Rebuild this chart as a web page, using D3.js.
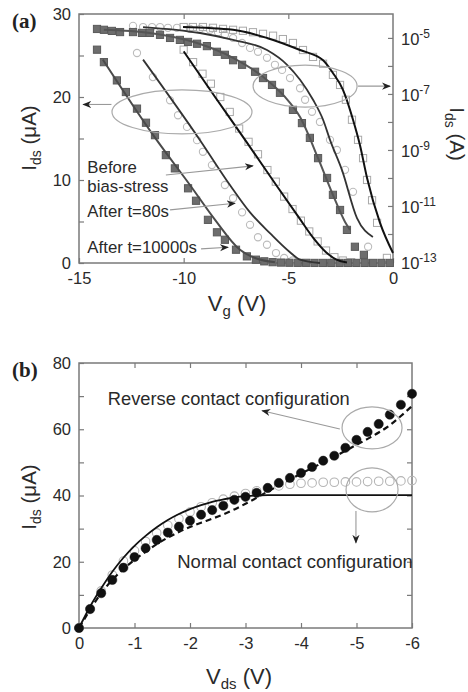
<!DOCTYPE html>
<html><head><meta charset="utf-8">
<script src="https://cdn.jsdelivr.net/npm/d3@7"></script>
<style>
body{margin:0;background:#fff}
svg{display:block}
text{font-family:"Liberation Sans",Arial,Helvetica,sans-serif}
</style>
</head><body><svg id="c" width="468" height="692"></svg>
<script>
// ---------------- DATA: panel (a) ----------------
// After t=10000s (filled squares), linear scale, Vg (V) / Ids (uA)
const s10k_lin_V = [-14.14,-13.81,-13.19,-12.76,-12.23,-11.80,-11.37,-10.85,-10.42,-9.79,-9.41,-8.84,-8.41,-8.03,-7.50,-6.98,-6.55,-6.15,-5.75,-5.35,-4.95,-4.55,-4.15,-3.75,-3.35,-2.95,-2.55,-2.15,-1.75,-1.35,-0.95,-0.55,-0.15];
const s10k_lin_I = [25.7,24.2,22.0,20.6,18.6,16.9,15.4,13.0,11.4,9.0,7.5,5.2,3.7,2.8,1.6,0.8,0.4,0.2,0.1,0.05,0.03,0.02,0.02,0.01,0.01,0.01,0.01,0.01,0.01,0.01,0.01,0.01,0.01];
// After t=10000s, log scale Ids (A)
const s10k_log_V = [-14.14,-13.81,-13.43,-13.04,-12.42,-11.99,-11.61,-11.13,-10.65,-10.18,-9.79,-9.36,-8.89,-8.41,-8.03,-7.64,-7.21,-6.59,-6.21,-5.78,-5.40,-4.78,-4.35,-3.97,-3.58,-3.15,-2.87,-2.53,-2.20,-1.82,-1.39];
const s10k_log_I = [2.09e-5,1.95e-5,1.78e-5,1.62e-5,1.62e-5,1.51e-5,1.51e-5,1.29e-5,1.0e-5,8.5e-6,7.2e-6,6.2e-6,5.1e-6,3.2e-6,2.5e-6,1.6e-6,1.1e-6,6.2e-7,3.7e-7,2.1e-7,1.1e-7,2.7e-8,9.1e-9,2.7e-9,5.1e-10,1.0e-10,2.5e-11,7.2e-12,1.4e-12,3.5e-13,1.8e-13];
// After t=80s (open circles)
const s80_lin_V = [-12.23,-11.47,-10.65,-10.27,-9.84,-9.36,-9.08,-8.65,-8.03,-7.64,-7.21,-6.83,-6.45,-6.02,-5.59,-5.20,-4.80];
const s80_lin_I = [25.3,22.4,19.6,17.8,16.4,14.8,13.4,11.8,9.4,7.8,6.1,4.6,3.1,2.2,1.2,0.6,0.3];
const s80_log_V = [-12.42,-11.94,-11.51,-11.13,-10.75,-10.32,-9.70,-9.22,-8.74,-8.36,-8.03,-7.64,-7.21,-6.83,-6.45,-6.02,-5.64,-5.30,-4.92,-4.44,-4.20,-3.87,-3.49,-3.01,-2.68,-2.29,-1.91,-1.19];
const s80_log_I = [2.7e-5,2.45e-5,2.45e-5,2.45e-5,2.3e-5,2.3e-5,2.1e-5,2.1e-5,1.95e-5,1.6e-5,1.3e-5,1.0e-5,6.6e-6,4.4e-6,3.2e-6,1.95e-6,1.1e-6,7.2e-7,3.7e-7,1.6e-7,6.2e-8,2.3e-8,1.0e-8,2.3e-9,1.0e-9,1.95e-10,3.2e-11,3.5e-13];
// Before bias-stress (open squares)
const s0_lin_V = [-10.0,-9.55,-9.1,-8.7,-8.25,-7.8,-7.35,-6.9,-6.45,-6.0,-5.6,-5.2,-4.8,-4.4,-4.0,-3.6,-3.2,-2.8,-2.4,-2.0];
const s0_lin_I = [25.7,24.2,22.8,21.6,20.0,18.2,16.2,14.6,13.1,11.2,9.8,8.0,6.5,5.1,3.8,2.6,1.5,0.7,0.3,0.1];
const s0_log_V = [-10.0,-9.56,-9.08,-8.60,-8.12,-7.64,-7.17,-6.69,-6.21,-5.73,-5.26,-4.78,-4.30,-3.82,-3.34,-2.87,-2.53,-2.25,-1.96,-1.67,-1.43,-1.24,-1.0,-0.76,-0.29];
const s0_log_I = [2.45e-5,2.45e-5,2.45e-5,2.3e-5,2.1e-5,1.95e-5,1.8e-5,1.6e-5,1.4e-5,1.2e-5,9.1e-6,6.6e-6,3.7e-6,2.1e-6,1.2e-6,4.8e-7,2.1e-7,6.2e-8,1.2e-8,2.3e-9,5.1e-10,8.5e-11,1.6e-11,2.5e-12,1.4e-13];
// fitted curves
const fit0_lin_V = [-10.0,-8.5,-7.0,-5.5,-4.5,-3.8,-3.2,-2.7,-2.2];
const fit0_lin_I = [25.5,20.0,14.6,9.1,5.5,3.0,1.3,0.4,0.05];
const fit80_lin_V = [-11.94,-9.22,-7.79,-6.83,-5.88,-4.92,-4.44,-3.49];
const fit80_lin_I = [24.5,14.8,9.4,6.1,3.6,1.3,0.4,0.0];
const fit10k_lin_V = [-13.86,-11.37,-9.70,-8.50,-7.31,-6.59,-5.64];
const fit10k_lin_I = [24.5,15.1,9.4,5.2,1.6,0.6,0.1];
const fit0_log_V = [-10.03,-7.64,-6.02,-4.44,-3.34,-2.87,-2.39,-1.91,-1.58,-1.24,-0.62,0];
const fit0_log_I = [2.45e-5,1.95e-5,1.0e-5,3.7e-6,1.6e-6,5.6e-7,1.4e-7,1.2e-8,1.5e-9,1.0e-10,2.5e-12,2.1e-13];
const fit80_log_V = [-11.94,-9.22,-7.64,-6.02,-5.06,-4.44,-3.82,-3.34,-3.01,-2.44,-1.72,-0.96];
const fit80_log_I = [2.45e-5,1.5e-5,8.5e-6,3.7e-6,1.1e-6,3.2e-7,6.2e-8,1.2e-8,2.3e-9,1.95e-10,3.7e-12,7.8e-13];
const fit10k_log_V = [-13.81,-11.61,-9.36,-7.64,-6.21,-5.16,-4.44,-3.58,-2.87,-2.29,-2.05];
const fit10k_log_I = [1.95e-5,1.5e-5,6.6e-6,1.95e-6,4.1e-7,7.8e-8,1.5e-8,5.1e-10,2.5e-11,2.7e-12,1.4e-12];
// axis ticks (a)
const a_xTicks = [-15,-10,-5,0];
const a_yTicks = [0,10,20,30];
const a_yMinor = [5,15,25];
const a_logExp = [-13,-12,-11,-10,-9,-8,-7,-6,-5];
const a_logLabelExp = [-13,-11,-9,-7,-5];

// ---------------- DATA: panel (b) ----------------
const b_V = [0,-0.2,-0.4,-0.6,-0.8,-1.0,-1.2,-1.4,-1.6,-1.8,-2.0,-2.2,-2.4,-2.6,-2.8,-3.0,-3.2,-3.4,-3.6,-3.8,-4.0,-4.2,-4.4,-4.6,-4.8,-5.0,-5.2,-5.4,-5.6,-5.8,-6.0];
const reverse_I = [0,5.7,10.5,14.5,18.2,21.4,24.1,26.6,28.8,30.6,32.4,34.2,35.6,36.9,38.7,39.6,40.8,42.3,43.8,45.3,46.8,48.6,50.5,52.0,54.4,56.8,59.2,61.6,64.4,67.4,70.7];
const normal_I = [0,5.8,11.2,16,20.2,23.3,26.1,28.7,31,33,35,36.6,37.8,38.9,39.8,40.6,41.4,42.2,42.9,43.4,43.7,43.8,44,44,44.1,44.1,44.2,44.3,44.3,44.4,44.5];
const normalFit_I = [0,6.5,12,17,21.2,24.8,27.8,30.4,32.6,34.4,35.9,37.1,38.1,38.8,39.4,39.8,40,40.1,40.1,40.1,40.1,40.1,40.1,40.1,40.1,40.1,40.1,40.1,40.1,40.1,40.1];
const reverseFit_I = [0,5.5,10.5,14.5,17.8,20.6,23,25.3,27.3,29,30.5,31.8,33,34.3,35.8,37.5,39.3,41.2,43,44.8,46.6,48.3,50,51.7,53.5,55.3,57.1,59,61.2,64,67];
const b_xTicks = [0,-1,-2,-3,-4,-5,-6];
const b_yTicks = [0,20,40,60,80];
const b_yMinor = [10,30,50,70];

// ---------------- SCALES ----------------
const svg = d3.select('#c');
const xA = d3.scaleLinear().domain([-15,0]).range([79,393]);
const yA = d3.scaleLinear().domain([0,30]).range([263,14]);
const yL = d3.scaleLog().domain([1e-13, Math.pow(10,-4.11)]).range([262,13]);
const xB = d3.scaleLinear().domain([0,-6]).range([79,412]);
const yB = d3.scaleLinear().domain([0,80]).range([628,363]);

const AX = '#7a7a7a', TXT = '#2a2a2a';
const zip = (a,b) => a.map((v,i)=>[v,b[i]]);

const defs = svg.append('defs');
defs.append('marker').attr('id','ah').attr('viewBox','0 0 10 10').attr('refX',9).attr('refY',5)
  .attr('markerWidth',9).attr('markerHeight',9).attr('markerUnits','userSpaceOnUse').attr('orient','auto')
  .append('path').attr('d','M0,1 L10,5 L0,9 L3,5 Z').attr('fill','#222');

function styleAxis(g){
  g.select('.domain').remove();
  g.selectAll('.tick line').attr('stroke',AX).attr('stroke-width',1.2);
  g.selectAll('.tick text').attr('fill',TXT).style('font-size','16.5px').style('font-family','"Liberation Sans",Arial,sans-serif');
}
const fmt = d => String(d);

// ============ PANEL (a) ============
const pa = svg.append('g');
pa.append('g').attr('transform',`translate(0,${yA(0)})`)
  .call(d3.axisBottom(xA).tickValues(a_xTicks).tickSizeInner(-5).tickSizeOuter(0).tickPadding(9).tickFormat(fmt)).call(styleAxis);
pa.append('g').attr('transform',`translate(0,${yA(30)})`)
  .call(d3.axisTop(xA).tickValues(a_xTicks.slice(1,-1)).tickSizeInner(-5).tickSizeOuter(0).tickFormat('')).call(styleAxis);
pa.append('g').attr('transform',`translate(${xA(-15)},0)`)
  .call(d3.axisLeft(yA).tickValues(a_yTicks.concat(a_yMinor)).tickSizeInner(-5).tickSizeOuter(0).tickPadding(8)
    .tickFormat(d => a_yTicks.includes(d) ? fmt(d) : '')).call(styleAxis);
const rAx = pa.append('g').attr('transform',`translate(${xA(0)},0)`)
  .call(d3.axisRight(yL).tickValues(a_logExp.map(e=>Math.pow(10,e))).tickSizeInner(-5).tickSizeOuter(0).tickPadding(8).tickFormat('')).call(styleAxis);
rAx.selectAll('.tick').each(function(d){
  const e = Math.round(Math.log10(d));
  if(!a_logLabelExp.includes(e)) return;
  const t = d3.select(this).select('text').attr('dy','0.42em');
  t.append('tspan').text('10');
  t.append('tspan').attr('dy',-7).style('font-size','12px').text(String(e));
});
pa.append('rect').attr('x',xA(-15)).attr('y',yA(30)).attr('width',xA(0)-xA(-15)).attr('height',yA(0)-yA(30))
  .attr('fill','none').attr('stroke',AX).attr('stroke-width',1.5);

const pts = pa.append('g');
function squares(V,I,x,y,fill,stroke){
  pts.append('g').selectAll('rect').data(zip(V,I)).join('rect')
    .attr('x',d=>x(d[0])-3.6).attr('y',d=>y(d[1])-3.6).attr('width',7.2).attr('height',7.2)
    .attr('fill',fill).attr('stroke',stroke).attr('stroke-width',1);
}
function circles(g,V,I,x,y,r,fill,stroke,sw){
  g.append('g').selectAll('circle').data(zip(V,I)).join('circle')
    .attr('cx',d=>x(d[0])).attr('cy',d=>y(d[1])).attr('r',r)
    .attr('fill',fill).attr('stroke',stroke).attr('stroke-width',sw);
}
circles(pts,s80_lin_V,s80_lin_I,xA,yA,3.6,'none','#bcbcbc',1.1);
circles(pts,s80_log_V,s80_log_I,xA,yL,3.6,'none','#bcbcbc',1.1);
squares(s0_lin_V,s0_lin_I,xA,yA,'none','#a9a9a9');
squares(s0_log_V,s0_log_I,xA,yL,'none','#a9a9a9');
squares(s10k_lin_V,s10k_lin_I,xA,yA,'#6d6d6d','#5a5a5a');
squares(s10k_log_V,s10k_log_I,xA,yL,'#6d6d6d','#5a5a5a');

function line(g,V,I,x,y,color,w,dash){
  const gen = d3.line().x(d=>x(d[0])).y(d=>y(d[1])).curve(d3.curveMonotoneX);
  g.append('path').attr('d',gen(zip(V,I))).attr('fill','none').attr('stroke',color).attr('stroke-width',w)
    .attr('stroke-dasharray',dash||null);
}
line(pa,fit10k_lin_V,fit10k_lin_I,xA,yA,'#4a4a4a',2);
line(pa,fit80_lin_V,fit80_lin_I,xA,yA,'#333',1.8);
line(pa,fit0_lin_V,fit0_lin_I,xA,yA,'#111',2);
line(pa,fit10k_log_V,fit10k_log_I,xA,yL,'#555',2);
line(pa,fit80_log_V,fit80_log_I,xA,yL,'#333',1.8);
line(pa,fit0_log_V,fit0_log_I,xA,yL,'#111',2);

pa.append('ellipse').attr('cx',xA(-10.08)).attr('cy',yA(18.2)).attr('rx',70).attr('ry',22)
  .attr('fill','none').attr('stroke','#aaa').attr('stroke-width',1.2);
pa.append('ellipse').attr('cx',xA(-4.2)).attr('cy',yL(1.9e-7)).attr('rx',52).attr('ry',21)
  .attr('fill','none').attr('stroke','#aaa').attr('stroke-width',1.2);
function arrow(g,x1,y1,x2,y2){
  g.append('line').attr('x1',x1).attr('y1',y1).attr('x2',x2).attr('y2',y2)
    .attr('stroke','#999').attr('stroke-width',1.1).attr('marker-end','url(#ah)');
}
arrow(pa,xA(-13.45),yA(19.1),xA(-14.8),yA(19.1));
arrow(pa,xA(-1.67),yL(1.9e-7),xA(-0.14),yL(1.9e-7));
arrow(pa,xA(-10.85),yA(10.6),xA(-6.69),yA(11.7));
arrow(pa,xA(-10.65),yA(6.4),xA(-7.55),yA(7.2));
arrow(pa,xA(-9.17),yA(1.7),xA(-7.88),yA(1.9));
const lbl = (g,x,y,t,fs) => g.append('text').attr('x',x).attr('y',y).attr('fill',TXT).style('font-size',(fs||16.8)+'px').text(t);
lbl(pa,xA(-14.6),yA(10.8),'Before');
lbl(pa,xA(-14.6),yA(8.6),'bias-stress');
lbl(pa,xA(-14.6),yA(5.5),'After t=80s');
lbl(pa,xA(-14.6),yA(1.2),'After t=10000s');

svg.append('text').attr('x',12).attr('y',28).style('font-family','"Liberation Serif","Times New Roman",serif')
  .style('font-weight','bold').style('font-size','21px').attr('fill','#222').text('(a)');
function subTitle(g,tr,main,sub,rest,fs,anchor){
  const t = g.append('text').attr('transform',tr).attr('text-anchor',anchor||'middle').attr('fill',TXT).style('font-size',fs+'px');
  t.append('tspan').text(main);
  t.append('tspan').attr('dy',5).style('font-size',(fs*0.68)+'px').text(sub);
  t.append('tspan').attr('dy',-5).text(rest);
  return t;
}
subTitle(svg,`translate(36,138) rotate(-90)`,'I','ds',' (\u03BCA)',20.5);
subTitle(svg,`translate(450,134) rotate(90)`,'I','ds',' (A)',20.5);
subTitle(svg,`translate(237,311)`,'V','g',' (V)',22);

// ============ PANEL (b) ============
const pb = svg.append('g');
pb.append('g').attr('transform',`translate(0,${yB(0)})`)
  .call(d3.axisBottom(xB).tickValues(b_xTicks).tickSizeInner(-5).tickSizeOuter(0).tickPadding(9).tickFormat(fmt)).call(styleAxis);
pb.append('g').attr('transform',`translate(0,${yB(80)})`)
  .call(d3.axisTop(xB).tickValues(b_xTicks.slice(1,-1)).tickSizeInner(-5).tickSizeOuter(0).tickFormat('')).call(styleAxis);
pb.append('g').attr('transform',`translate(${xB(0)},0)`)
  .call(d3.axisLeft(yB).tickValues(b_yTicks.concat(b_yMinor)).tickSizeInner(-5).tickSizeOuter(0).tickPadding(8)
    .tickFormat(d => b_yTicks.includes(d) ? fmt(d) : '')).call(styleAxis);
pb.append('g').attr('transform',`translate(${xB(-6)},0)`)
  .call(d3.axisRight(yB).tickValues(b_yTicks.slice(1,-1).concat(b_yMinor)).tickSizeInner(-5).tickSizeOuter(0).tickFormat('')).call(styleAxis);
pb.append('rect').attr('x',xB(0)).attr('y',yB(80)).attr('width',xB(-6)-xB(0)).attr('height',yB(0)-yB(80))
  .attr('fill','none').attr('stroke',AX).attr('stroke-width',1.5);

circles(pb,b_V,normal_I,xB,yB,4.3,'none','#b5b5b5',1.1);
circles(pb,b_V,reverse_I,xB,yB,4.6,'#111','#111',0.5);
line(pb,b_V,normalFit_I,xB,yB,'#111',1.8);
line(pb,b_V,reverseFit_I,xB,yB,'#111',2.2,'6,4');

pb.append('ellipse').attr('cx',xB(-5.28)).attr('cy',yB(60.4)).attr('rx',30).attr('ry',21)
  .attr('fill','none').attr('stroke','#aaa').attr('stroke-width',1.2);
pb.append('ellipse').attr('cx',xB(-5.28)).attr('cy',yB(41.7)).attr('rx',26).attr('ry',22)
  .attr('fill','none').attr('stroke','#aaa').attr('stroke-width',1.2);
arrow(pb,xB(-4.70),yB(60.1),xB(-3.30),yB(65.6));
arrow(pb,xB(-4.99),yB(35.3),xB(-4.99),yB(25.7));
lbl(pb,xB(-0.52),yB(67.4),'Reverse contact configuration',18.3);
lbl(pb,xB(-1.77),yB(18.1),'Normal contact configuration',18.5);

svg.append('text').attr('x',12).attr('y',377).style('font-family','"Liberation Serif","Times New Roman",serif')
  .style('font-weight','bold').style('font-size','21px').attr('fill','#222').text('(b)');
subTitle(svg,`translate(36,497) rotate(-90)`,'I','ds',' (\u03BCA)',20.5);
subTitle(svg,`translate(239,684)`,'V','ds',' (V)',22);
</script></body></html>
